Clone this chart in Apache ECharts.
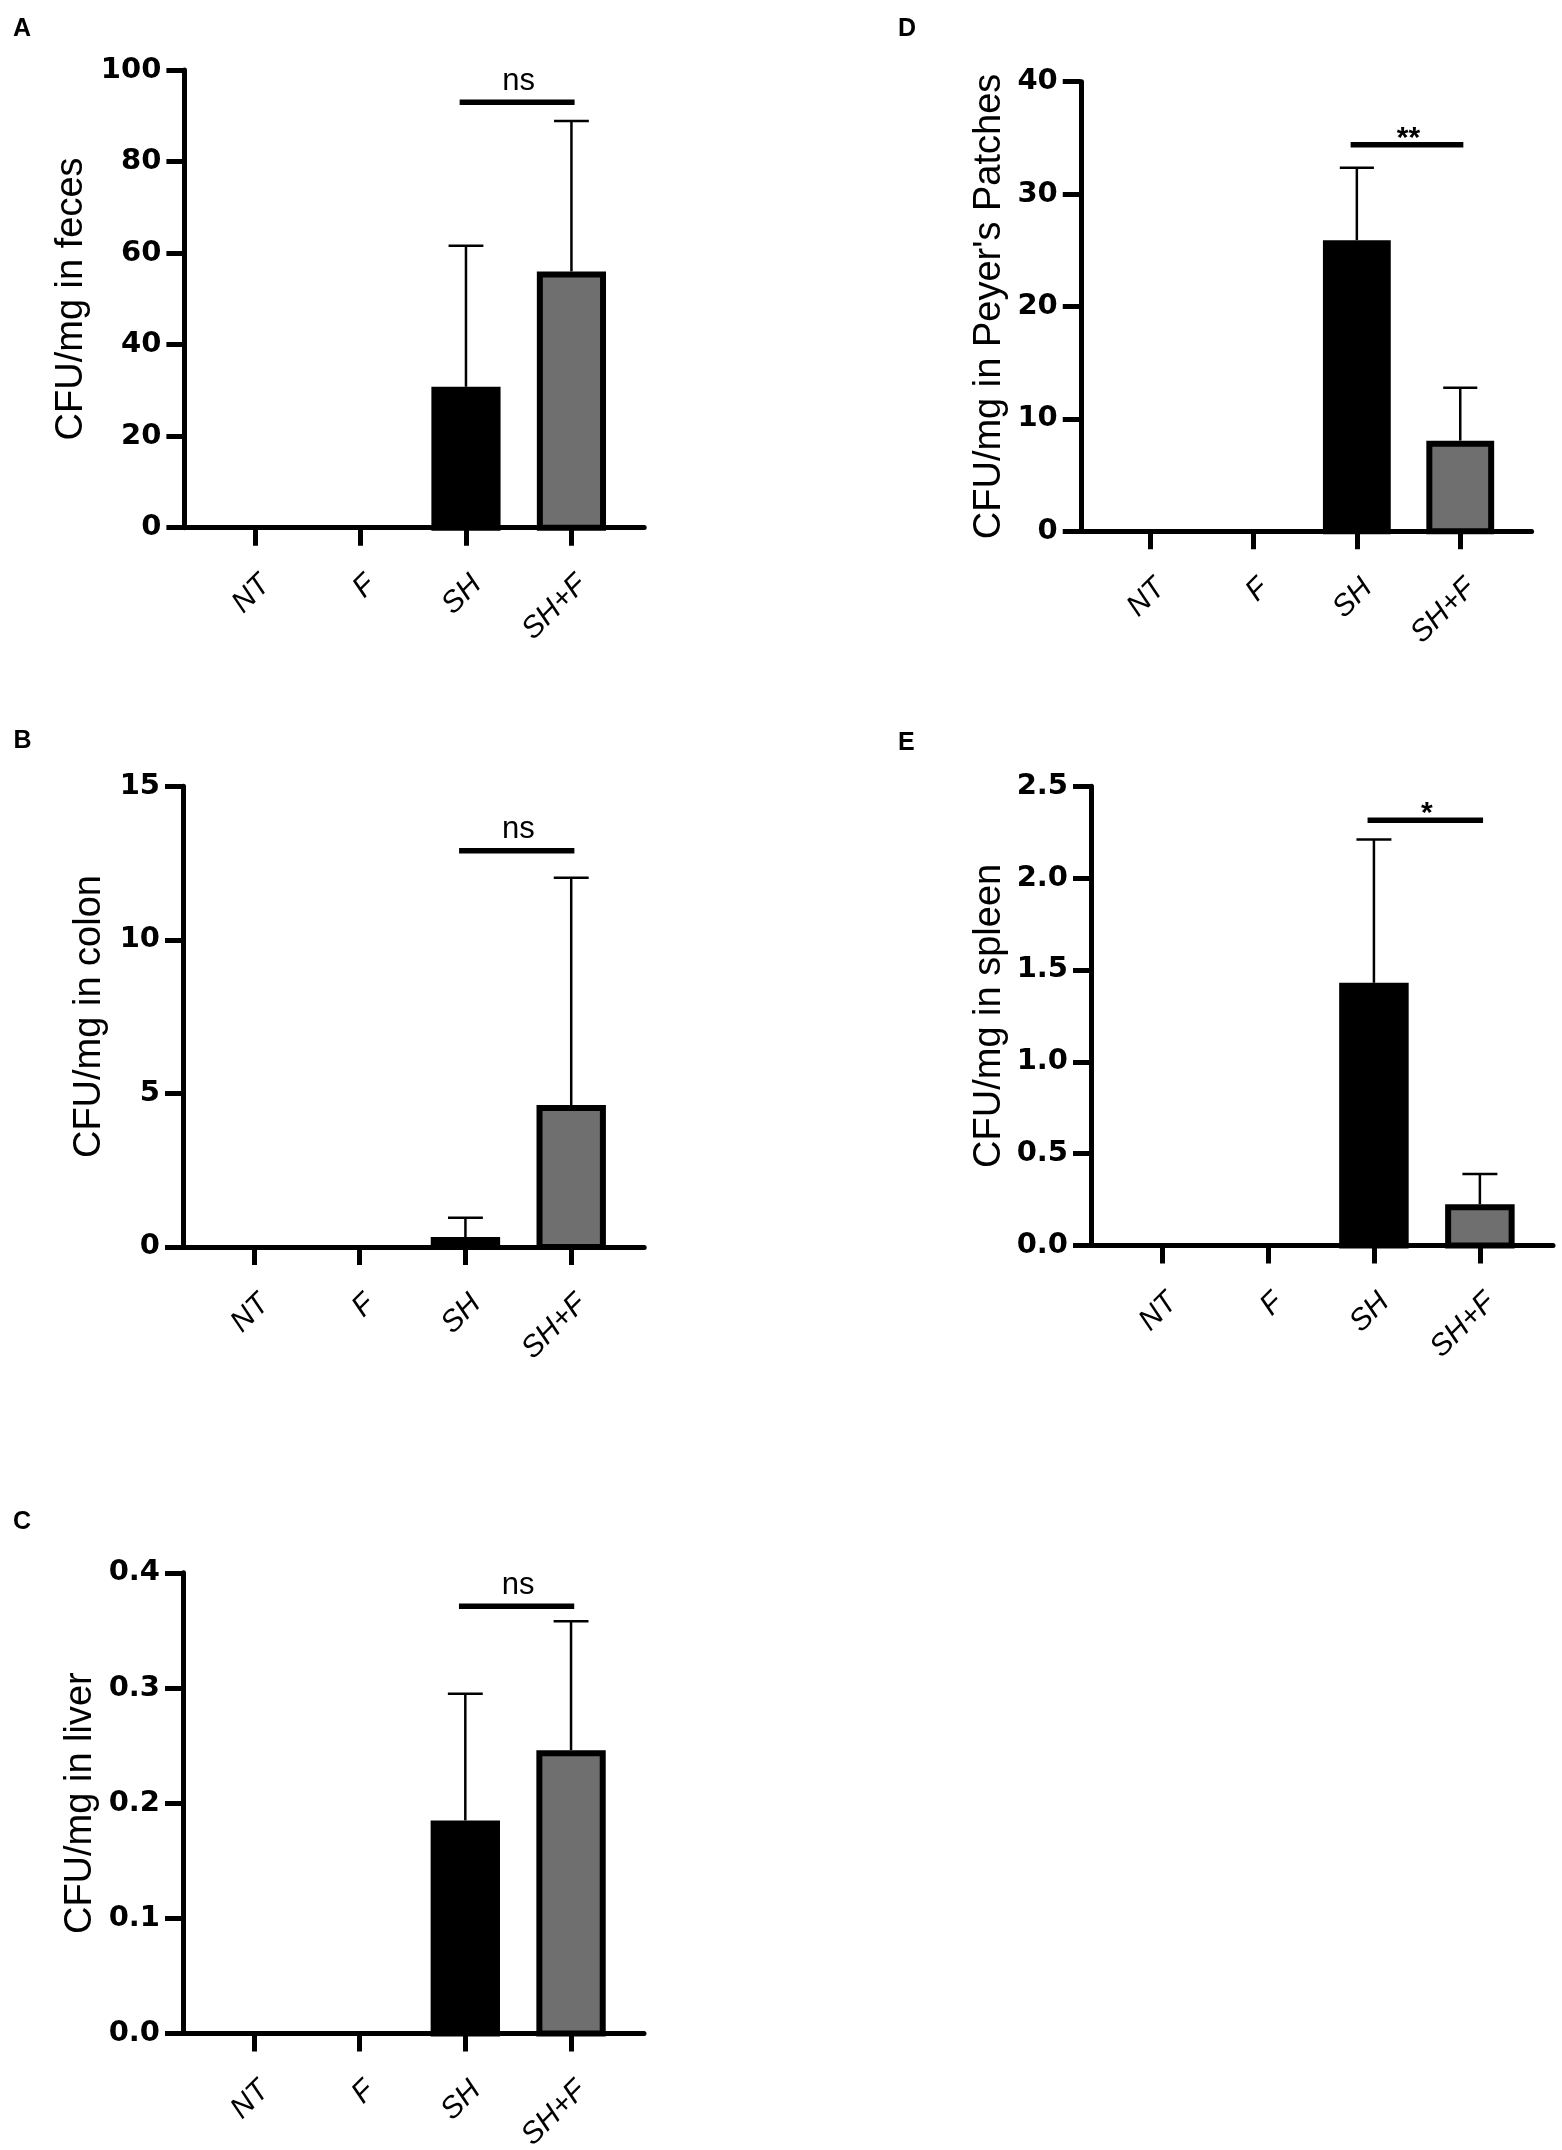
<!DOCTYPE html>
<html>
<head>
<meta charset="utf-8">
<title>CFU/mg by organ</title>
<script src="https://cdn.jsdelivr.net/npm/echarts@6/dist/echarts.min.js"></script>
<style>
    html, body { margin: 0; padding: 0; background: #fff; }
    #chart { width: 1562px; height: 2150px; }
</style>
</head>
<body>
<div id="chart"></div>
<script>
var groups = ['NT', 'F', 'SH', 'SH+F'];

// mean and upper error bar of each group, per panel
var fecesMean = [0, 0, 30.8, 56.0];
var fecesErr = [0, 0, 30.8, 32.9];
var colonMean = [0, 0, 0.32, 4.62];
var colonErr = [0, 0, 0.63, 7.4];
var liverMean = [0, 0, 0.185, 0.246];
var liverErr = [0, 0, 0.110, 0.112];
var peyerMean = [0, 0, 25.9, 8.06];
var peyerErr = [0, 0, 6.45, 4.7];
var spleenMean = [0, 0, 1.43, 0.224];
var spleenErr = [0, 0, 0.78, 0.165];

// SH vs SH+F comparison
var sigHeights = [93, 12.9, 0.371, 34.4, 2.315];
var sigLabels = ['ns', 'ns', 'ns', '**', '*'];

var yMax = [100, 15, 0.4, 40, 2.5];
var yStep = [20, 5, 0.1, 10, 0.5];
var yDecimals = [0, 0, 1, 0, 1];
var yNames = ['CFU/mg in feces', 'CFU/mg in colon', 'CFU/mg in liver',
    'CFU/mg in Peyer\'s Patches', 'CFU/mg in spleen'];
var panelLetters = ['A', 'B', 'C', 'D', 'E'];

var means = [fecesMean, colonMean, liverMean, peyerMean, spleenMean];
var errs = [fecesErr, colonErr, liverErr, peyerErr, spleenErr];

// panel boxes (px) and label spacing
var boxes = [
    {left: 184.4, top: 70.1, width: 459.8, height: 457.6, nameGap: 94, letter: [13, 17]},
    {left: 183, top: 786.2, width: 461.2, height: 460.7, nameGap: 74.5, letter: [13.5, 729]},
    {left: 183, top: 1572.8, width: 461, height: 460.7, nameGap: 83.5, letter: [13, 1510]},
    {left: 1080.75, top: 81.7, width: 450.85, height: 449.5, nameGap: 72.3, letter: [898, 17]},
    {left: 1091, top: 786.2, width: 462, height: 459.3, nameGap: 82.6, letter: [898, 731]}
];

var FONT = 'Liberation Sans, Arial, Helvetica, sans-serif';
var GRAY = '#6f6f6f';
var BAR_W = 0.656;
var CAP_W = 0.33;

function renderBar(params, api) {
    var x = api.value(0);
    var mean = api.value(1);
    var err = api.value(2);
    if (!mean) {
        return null;
    }
    var lw = 6;
    var w = api.size([BAR_W, 0])[0];
    var cap = api.size([CAP_W, 0])[0];
    var base = api.coord([x, 0]);
    var top = api.coord([x, mean]);
    var end = api.coord([x, mean + err]);
    return {
        type: 'group',
        children: [
            {
                type: 'line',
                shape: {x1: base[0], y1: top[1], x2: base[0], y2: end[1]},
                style: {stroke: '#000', lineWidth: 2.5}
            },
            {
                type: 'line',
                shape: {x1: base[0] - cap / 2, y1: end[1], x2: base[0] + cap / 2, y2: end[1]},
                style: {stroke: '#000', lineWidth: 2.5}
            },
            {
                type: 'rect',
                shape: {
                    x: base[0] - w / 2 + lw / 2,
                    y: top[1] + lw / 2,
                    width: w - lw,
                    height: base[1] - top[1] - lw / 2
                },
                style: {fill: x === 3 ? GRAY : '#000', stroke: '#000', lineWidth: lw}
            }
        ]
    };
}

function sigRenderer(label) {
    var star = label.indexOf('*') >= 0;
    return function (params, api) {
        var a = api.coord([api.value(0) - 0.06, api.value(2)]);
        var b = api.coord([api.value(1) + 0.03, api.value(2)]);
        var mid = api.coord([(api.value(0) + api.value(1)) / 2, api.value(2)]);
        return {
            type: 'group',
            children: [
                {
                    type: 'line',
                    shape: {x1: a[0], y1: a[1], x2: b[0], y2: b[1]},
                    style: {stroke: '#000', lineWidth: 5.5}
                },
                {
                    type: 'text',
                    x: mid[0],
                    y: mid[1] + (star ? -6 : -21),
                    style: {
                        text: label,
                        fill: '#000',
                        font: (star ? 'bold 30px ' : '31px ') + FONT,
                        align: 'center',
                        verticalAlign: 'middle'
                    }
                }
            ]
        };
    };
}

var option = {
    backgroundColor: '#fff',
    animation: false,
    title: [],
    grid: [],
    xAxis: [],
    yAxis: [],
    series: []
};

boxes.forEach(function (box, i) {
    option.title.push({
        text: panelLetters[i],
        left: box.letter[0],
        top: box.letter[1],
        padding: 0,
        textStyle: {fontSize: 25, fontWeight: 'bold', fontFamily: FONT, color: '#000'}
    });
    option.grid.push({
        left: box.left,
        top: box.top,
        width: box.width,
        height: box.height,
        containLabel: false,
        outerBoundsMode: 'none'
    });
    option.xAxis.push({
        gridIndex: i,
        type: 'value',
        min: -0.67,
        max: 3.69,
        axisLine: {show: true, onZero: false, lineStyle: {color: '#000', width: 5}},
        axisTick: {
            show: true,
            customValues: [0, 1, 2, 3],
            length: 18,
            lineStyle: {color: '#000', width: 5}
        },
        axisLabel: {
            show: true,
            customValues: [0, 1, 2, 3],
            rotate: 45,
            margin: 63,
            padding: [0, -15, 0, 0],
            fontSize: 30,
            fontStyle: 'italic',
            fontFamily: FONT,
            color: '#000',
            formatter: function (v) {
                return groups[Math.round(v)];
            }
        },
        splitLine: {show: false}
    });
    option.yAxis.push({
        gridIndex: i,
        type: 'value',
        min: 0,
        max: yMax[i],
        interval: yStep[i],
        name: yNames[i],
        nameLocation: 'middle',
        nameGap: box.nameGap,
        nameTextStyle: {fontSize: 38, fontFamily: FONT, color: '#000'},
        axisLine: {show: true, onZero: false, lineStyle: {color: '#000', width: 5}},
        axisTick: {show: true, length: 18, lineStyle: {color: '#000', width: 5}},
        axisLabel: {
            margin: 23,
            fontSize: 29,
            fontWeight: 'bold',
            fontFamily: 'DejaVu Sans, sans-serif',
            color: '#000',
            formatter: function (v) {
                return v.toFixed(yDecimals[i]);
            }
        },
        splitLine: {show: false}
    });
    option.series.push({
        type: 'custom',
        name: yNames[i],
        xAxisIndex: i,
        yAxisIndex: i,
        renderItem: renderBar,
        encode: {x: 0, y: 1},
        data: groups.map(function (g, k) {
            return [k, means[i][k], errs[i][k]];
        })
    });
    option.series.push({
        type: 'custom',
        name: sigLabels[i],
        xAxisIndex: i,
        yAxisIndex: i,
        renderItem: sigRenderer(sigLabels[i]),
        encode: {x: 0, y: 2},
        data: [[2, 3, sigHeights[i]]],
        z: 3
    });
});

var chart = echarts.init(document.getElementById('chart'), null, {renderer: 'canvas'});
chart.setOption(option);
</script>
</body>
</html>
